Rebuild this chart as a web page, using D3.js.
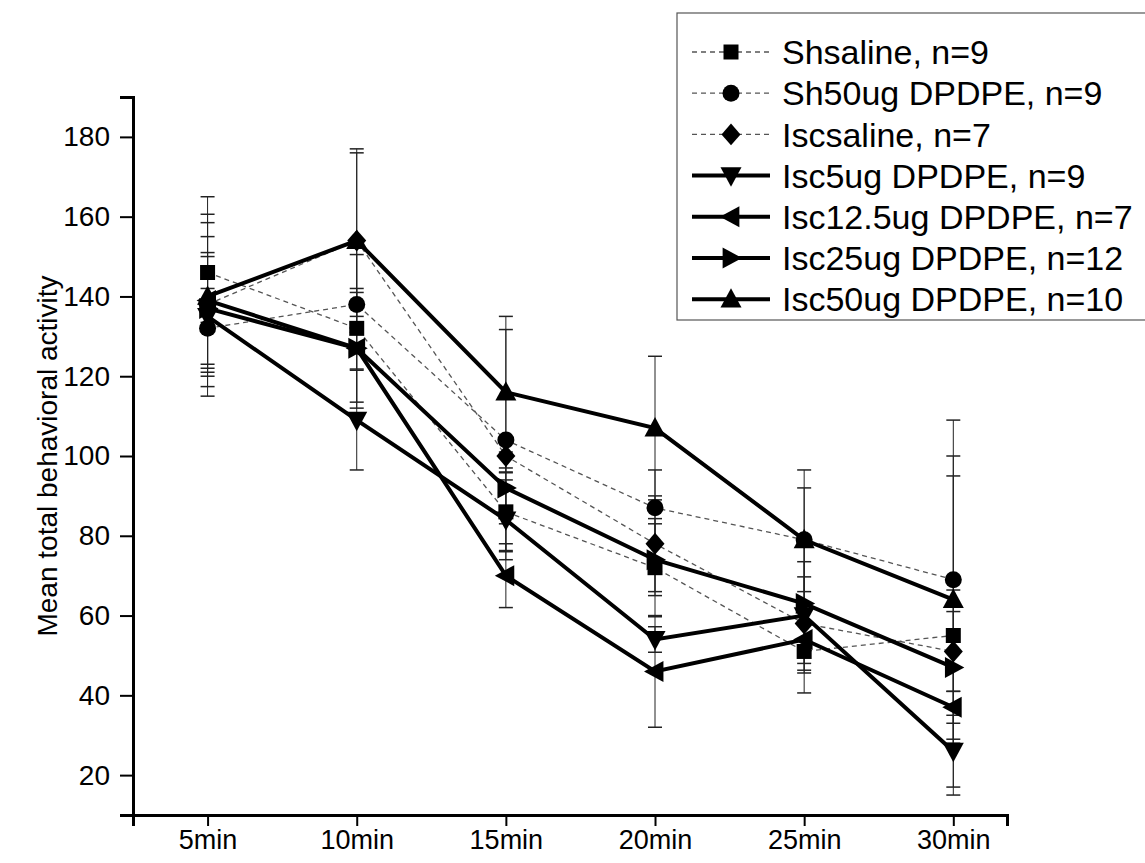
<!DOCTYPE html>
<html>
<head>
<meta charset="utf-8">
<script src="https://cdn.jsdelivr.net/npm/d3@7"></script>
<style>
  body { margin: 0; background: #fff; }
  svg text { font-family: "Liberation Sans", Arial, sans-serif; fill: #000; }
</style>
</head>
<body>
<svg id="chart" width="1145" height="863"></svg>
<script>
// time points on the x axis
const times = ['5min', '10min', '15min', '20min', '25min', '30min'];

// y ticks
const yTicks = [20, 40, 60, 80, 100, 120, 140, 160, 180];

// group means
const shSaline   = [146, 132, 86, 72, 51, 55];
const sh50       = [132, 138, 104, 87, 79, 69];
const iscSaline  = [138, 154, 100, 78, 58, 51];
const isc5       = [135, 109, 84, 54, 60, 26];
const isc125     = [139, 127, 70, 46, 54, 37];
const isc25      = [137, 127, 92, 74, 63, 47];
const isc50      = [140, 154, 116, 107, 79, 64];

// error bar half-lengths (SEM)
const shSalineErr  = [12.5, 18.5, 10, 12.3, 3, 40];
const sh50Err      = [10, 3, 27.7, 9.5, 17.5, 40];
const iscSalineErr = [17, 22, 4.2, 12, 11.7, 10];
const isc5Err      = [15, 12.5, 10, 3.2, 19.4, 9];
const isc125Err    = [21.6, 15, 8, 14, 8.4, 4];
const isc25Err     = [14, 5.2, 9, 9, 10.5, 19.4];
const isc50Err     = [25, 23, 19, 18, 13, 36];

const seriesNames = [
    'Shsaline, n=9',
    'Sh50ug DPDPE, n=9',
    'Iscsaline, n=7',
    'Isc5ug DPDPE, n=9',
    'Isc12.5ug DPDPE, n=7',
    'Isc25ug DPDPE, n=12',
    'Isc50ug DPDPE, n=10'
];

const series = [
    {name: seriesNames[0], values: shSaline,  err: shSalineErr,  marker: 'square',   dashed: true},
    {name: seriesNames[1], values: sh50,      err: sh50Err,      marker: 'circle',   dashed: true},
    {name: seriesNames[2], values: iscSaline, err: iscSalineErr, marker: 'diamond',  dashed: true},
    {name: seriesNames[3], values: isc5,      err: isc5Err,      marker: 'down',     dashed: false},
    {name: seriesNames[4], values: isc125,    err: isc125Err,    marker: 'left',     dashed: false},
    {name: seriesNames[5], values: isc25,     err: isc25Err,     marker: 'right',    dashed: false},
    {name: seriesNames[6], values: isc50,     err: isc50Err,     marker: 'up',       dashed: false}
];

const margin = {left: 133, right: 1007, top: 97, bottom: 815};

const svg = d3.select('#chart');

const xScale = d3.scaleLinear()
    .domain([-0.5, 5.36])
    .range([margin.left, margin.right]);

const yScale = d3.scaleLinear()
    .domain([10, 190])
    .range([margin.bottom, margin.top]);

function markerPath(type, s) {
    const h = s / 2;
    switch (type) {
    case 'square':
        return `M${-h},${-h}H${h}V${h}H${-h}Z`;
    case 'circle':
        return `M${h},0A${h},${h} 0 1,1 ${-h},0A${h},${h} 0 1,1 ${h},0Z`;
    case 'diamond':
        return `M0,${-h * 1.15}L${h},0L0,${h * 1.15}L${-h},0Z`;
    case 'down':
        return `M${-h},${-h * 0.8}L${h},${-h * 0.8}L0,${h * 1.05}Z`;
    case 'up':
        return `M${-h},${h * 0.8}L${h},${h * 0.8}L0,${-h * 1.05}Z`;
    case 'left':
        return `M${h * 0.8},${-h}L${h * 0.8},${h}L${-h * 1.05},0Z`;
    case 'right':
        return `M${-h * 0.8},${-h}L${-h * 0.8},${h}L${h * 1.05},0Z`;
    }
}

const markerSize = {square: 15, circle: 17, diamond: 19, down: 21, up: 21, left: 21, right: 21};

// axes
const yAxis = d3.axisLeft(yScale).tickValues(yTicks).tickSize(13).tickPadding(10);
const gy = svg.append('g')
    .attr('transform', `translate(${margin.left},0)`)
    .call(yAxis);
gy.selectAll('.tick text').attr('font-size', 28);

const xAxis = d3.axisBottom(xScale)
    .tickValues(d3.range(times.length))
    .tickFormat(i => times[i])
    .tickSize(11)
    .tickPadding(4);
const gx = svg.append('g')
    .attr('transform', `translate(0,${margin.bottom})`)
    .call(xAxis);
gx.selectAll('.tick text').attr('font-size', 27);

[gx, gy].forEach(g => {
    g.select('.domain').attr('stroke', '#000').attr('stroke-width', 3);
    g.selectAll('.tick line').attr('stroke', '#000').attr('stroke-width', 2);
});

svg.append('text')
    .attr('transform', `translate(57,${(margin.top + margin.bottom) / 2}) rotate(-90)`)
    .attr('text-anchor', 'middle')
    .attr('font-size', 28)
    .text('Mean total behavioral activity');

const plot = svg.append('g');

// error bars
series.forEach(s => {
    const g = plot.append('g');
    s.values.forEach((v, i) => {
        const x = xScale(i);
        const y1 = yScale(v + s.err[i]);
        const y2 = yScale(v - s.err[i]);
        g.append('line').attr('x1', x).attr('x2', x).attr('y1', y1).attr('y2', y2)
            .attr('stroke', '#222').attr('stroke-width', 1);
        [y1, y2].forEach(y => {
            g.append('line').attr('x1', x - 7).attr('x2', x + 7).attr('y1', y).attr('y2', y)
                .attr('stroke', '#222').attr('stroke-width', 1.5);
        });
    });
});

const line = d3.line()
    .x((d, i) => xScale(i))
    .y(d => yScale(d));

// lines
series.forEach(s => {
    plot.append('path')
        .datum(s.values)
        .attr('d', line)
        .attr('fill', 'none')
        .attr('stroke', s.dashed ? '#555' : '#000')
        .attr('stroke-width', s.dashed ? 1.3 : 4)
        .attr('stroke-dasharray', s.dashed ? '5,4' : null);
});

// markers
series.forEach(s => {
    plot.append('g')
        .selectAll('path')
        .data(s.values)
        .enter()
        .append('path')
        .attr('transform', (d, i) => `translate(${xScale(i)},${yScale(d)})`)
        .attr('d', markerPath(s.marker, markerSize[s.marker]))
        .attr('fill', '#000');
});

// legend
const legend = svg.append('g');
legend.append('rect')
    .attr('x', 677).attr('y', 13)
    .attr('width', 480).attr('height', 307)
    .attr('fill', '#fff')
    .attr('stroke', '#555')
    .attr('stroke-width', 1.2);

series.forEach((s, i) => {
    const y = 52 + i * 41.2;
    const row = legend.append('g').attr('transform', `translate(0,${y})`);
    row.append('line')
        .attr('x1', 692).attr('x2', 770)
        .attr('stroke', s.dashed ? '#555' : '#000')
        .attr('stroke-width', s.dashed ? 1.3 : 4)
        .attr('stroke-dasharray', s.dashed ? '5,4' : null);
    row.append('path')
        .attr('transform', 'translate(731,0)')
        .attr('d', markerPath(s.marker, markerSize[s.marker]))
        .attr('fill', '#000');
    row.append('text')
        .attr('x', 782)
        .attr('dy', '0.36em')
        .attr('font-size', 34)
        .text(s.name);
});
</script>
</body>
</html>
